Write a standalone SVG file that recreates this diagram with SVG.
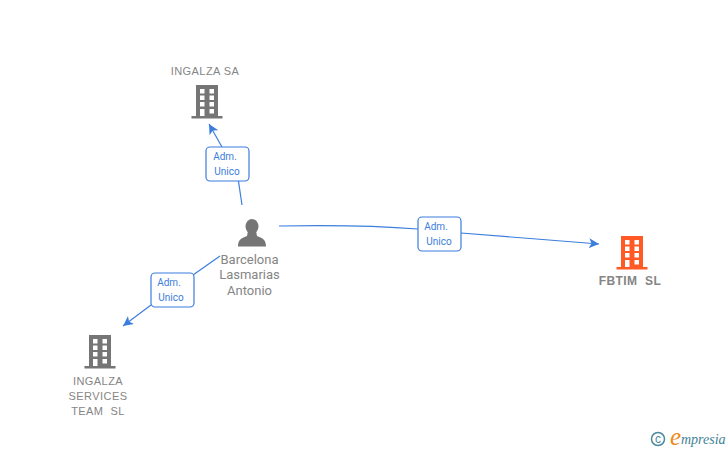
<svg xmlns="http://www.w3.org/2000/svg" xmlns:xlink="http://www.w3.org/1999/xlink" width="728" height="450" viewBox="0 0 728 450">
<style>
.lbl{font-family:"Liberation Sans",Arial,sans-serif;font-size:11px;letter-spacing:.45px;fill:#858585;text-anchor:middle}
.pers{font-family:Roboto,"Liberation Sans",sans-serif;font-size:13px;fill:#858585;text-anchor:middle}
.edge{fill:none;stroke:#3b7ddd;stroke-width:1.2;marker-end:url(#arr)}
.line{fill:none;stroke:#3b7ddd;stroke-width:1.2}
.box{fill:#fff;stroke:#3b7ddd;stroke-width:1.2}
.tag{font-family:Roboto,"Liberation Sans",sans-serif;font-size:10px;fill:#3b7ddd;text-anchor:middle}
</style>
<defs>
<marker id="arr" markerUnits="userSpaceOnUse" markerWidth="12" markerHeight="12" refX="10" refY="5" orient="auto">
<path d="M0 0L10 5L0 10L2.500 5Z" fill="#3b7ddd"/>
</marker>
<g id="bld">
<path fill-rule="evenodd" d="M-11 -16H11V15H15.500V17.500H-15.500V15H-11ZM-7 -12V-7.500H-2.500V-12ZM2.500 -12V-7.500H7V-12ZM-7 -5.500V-1H-2.500V-5.500ZM2.500 -5.500V-1H7V-5.500ZM-7 1V5.500H-2.500V1ZM2.500 1V5.500H7V1ZM-7 8V15H-2.500V8ZM2.500 8V12.500H7V8Z"/>
</g>
</defs>
<g id="connectors">
<path class="line" d="M242 205L238 178"/>
<path class="edge" d="M222 147L209 124"/>
<path class="line" d="M279 226C330 225 380 226 418 229"/>
<path class="edge" d="M461 233L599 244"/>
<path class="line" d="M220 256L193 275"/>
<path class="edge" d="M151 305L123 326"/>
</g>
<g id="tag1"><rect class="box" x="206" y="147" width="43" height="34" rx="4"/><text class="tag" x="225" y="160">Adm.</text><text class="tag" x="227" y="175">Unico</text></g>
<g id="tag2"><rect class="box" x="418" y="217" width="43" height="34" rx="4"/><text class="tag" x="436" y="230">Adm.</text><text class="tag" x="439" y="245">Unico</text></g>
<g id="tag3"><rect class="box" x="151" y="273" width="43" height="34" rx="4"/><text class="tag" x="169" y="286">Adm.</text><text class="tag" x="171" y="301">Unico</text></g>
<g id="node-ingalza-sa"><text class="lbl" x="205" y="75">INGALZA SA</text><use xlink:href="#bld" href="#bld" x="207" y="101" fill="#757575"/></g>
<g id="node-person">
<ellipse cx="252" cy="226.500" rx="6.500" ry="7.500" fill="#757575"/>
<path d="M248 231H256L257 236C262 238 266 239 266 246.500H238C238 239 242 238 247 236Z" fill="#757575"/>
<text class="pers" x="249.500" y="264">Barcelona</text><text class="pers" x="249.500" y="279">Lasmarias</text><text class="pers" x="249.500" y="295">Antonio</text>
</g>
<g id="node-fbtim"><use xlink:href="#bld" href="#bld" x="632" y="252" fill="#ff5a26"/><text class="lbl" x="630" y="285" style="font-weight:bold;font-size:12px" xml:space="preserve">FBTIM  SL</text></g>
<g id="node-services"><use xlink:href="#bld" href="#bld" x="100" y="351" fill="#757575"/>
<text class="lbl" x="98" y="385">INGALZA</text><text class="lbl" x="98" y="400">SERVICES</text><text class="lbl" x="98" y="415" xml:space="preserve">TEAM  SL</text></g>
<g id="logo">
<circle cx="658" cy="439" r="6.500" fill="none" stroke="#4a8a9c" stroke-width="1.500"/>
<text x="658" y="443" font-family="Liberation Sans,sans-serif" font-size="12" fill="#4a8a9c" text-anchor="middle">c</text>
<text x="670" y="445" font-family="Liberation Serif,serif" font-style="italic" font-size="25" fill="#f08a1d">e</text>
<text x="681" y="444" font-family="Liberation Serif,serif" font-style="italic" font-size="14" fill="#3f8296">mpresia</text>
</g>
</svg>
